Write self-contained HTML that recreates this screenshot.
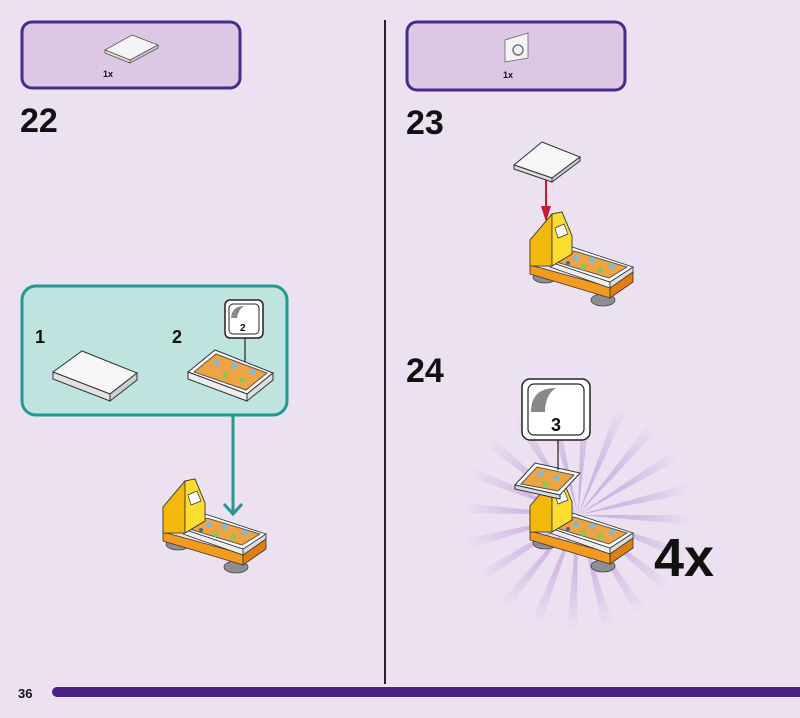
<!DOCTYPE html>
<html><head><meta charset="utf-8"><style>
html,body{margin:0;padding:0;background:#ebe1f1;}
svg{display:block}
text{font-family:"Liberation Sans",sans-serif;font-weight:bold;fill:#111}
</style></head><body>
<svg width="800" height="718" viewBox="0 0 800 718" xmlns="http://www.w3.org/2000/svg">
<defs>
<g id="bed">
  <ellipse cx="17" cy="67" rx="12" ry="6" fill="#8d8d93" stroke="#444" stroke-width="0.8"/>
  <ellipse cx="75" cy="90" rx="12" ry="6" fill="#8d8d93" stroke="#444" stroke-width="0.8"/>
  <polygon points="2,55 82,77 82,88 2,64" fill="#f39b1f" stroke="#333" stroke-width="0.8"/>
  <polygon points="82,77 105,62 105,72 82,88" fill="#e07f10" stroke="#333" stroke-width="0.8"/>
  <polygon points="22,52 82,72 82,78 22,57" fill="#eeeeee" stroke="#333" stroke-width="0.8"/>
  <polygon points="82,72 105,57 105,62 82,78" fill="#dddddd" stroke="#333" stroke-width="0.8"/>
  <polygon points="22,52 44,37 105,57 82,72" fill="#ffffff" stroke="#333" stroke-width="0.8"/>
  <polygon points="28,52 46,41 99,57 81,68" fill="#efa444" stroke="#555" stroke-width="1"/>
  <circle cx="48" cy="48" r="3" fill="#7fb9e0"/><circle cx="64" cy="50" r="3" fill="#7fb9e0"/>
  <circle cx="84" cy="56" r="3" fill="#7fb9e0"/><circle cx="55" cy="57" r="3" fill="#8cc850"/>
  <circle cx="72" cy="60" r="3" fill="#8cc850"/><circle cx="40" cy="53" r="2" fill="#4a6a8a"/>
  <polygon points="2,30 24,4 34,2 44,26 44,44 24,56 2,56" fill="#fbd420" stroke="#333" stroke-width="0.8"/>
  <polygon points="2,30 24,4 24,56 2,56" fill="#f2b80a" stroke="#333" stroke-width="0.8"/>
  <polygon points="24,4 34,2 44,26 44,44 24,56" fill="#fddc30" stroke="#333" stroke-width="0.8"/>
  <polygon points="27,18 36,14 40,24 30,28" fill="#ffffff" stroke="#333" stroke-width="0.7"/>
</g>
<radialGradient id="fade" gradientUnits="userSpaceOnUse" cx="578" cy="515" r="115">
  <stop offset="0" stop-color="#fff" stop-opacity="1"/>
  <stop offset="0.5" stop-color="#fff" stop-opacity="0.7"/>
  <stop offset="1" stop-color="#fff" stop-opacity="0"/>
</radialGradient>
<mask id="m" maskUnits="userSpaceOnUse" x="440" y="380" width="280" height="260"><rect x="440" y="380" width="280" height="260" fill="url(#fade)"/></mask>
</defs>

<line x1="385" y1="20" x2="385" y2="684" stroke="#2a2030" stroke-width="2"/>
<rect x="52" y="687" width="760" height="10" rx="5" fill="#4b2382"/>
<text x="18" y="698" font-size="13">36</text>

<rect x="22" y="22" width="218" height="66" rx="10" fill="#dcc8e5" stroke="#4a2a88" stroke-width="3"/>
<rect x="407" y="22" width="218" height="68" rx="10" fill="#dcc8e5" stroke="#4a2a88" stroke-width="3"/>
<polygon points="105,50 132,35 158,45 130,60" fill="#f4f4f4" stroke="#555" stroke-width="0.8"/>
<polygon points="105,50 130,60 130,63 105,53" fill="#ddd" stroke="#555" stroke-width="0.8"/>
<polygon points="130,60 158,45 158,48 130,63" fill="#ccc" stroke="#555" stroke-width="0.8"/>
<text x="103" y="77" font-size="9">1x</text>
<polygon points="505,40 528,33 528,58 505,62" fill="#f4f4f4" stroke="#666" stroke-width="0.8"/>
<circle cx="518" cy="50" r="5" fill="none" stroke="#777" stroke-width="1.5"/>
<text x="503" y="78" font-size="9">1x</text>

<text x="20" y="132" font-size="34">22</text>
<text x="406" y="134" font-size="34">23</text>
<text x="406" y="382" font-size="34">24</text>

<rect x="22" y="286" width="265" height="129" rx="14" fill="#bfe3df" stroke="#23998f" stroke-width="3"/>
<text x="35" y="343" font-size="18">1</text>
<text x="172" y="343" font-size="18">2</text>
<polygon points="53,372 82,351 137,373 110,394" fill="#f6f6f6" stroke="#333" stroke-width="1"/>
<polygon points="53,372 110,394 110,401 53,379" fill="#e2e2e2" stroke="#333" stroke-width="1"/>
<polygon points="110,394 137,373 137,380 110,401" fill="#cfcfcf" stroke="#333" stroke-width="1"/>
<polygon points="188,372 215,350 273,373 247,394" fill="#ffffff" stroke="#333" stroke-width="1"/>
<polygon points="188,372 247,394 247,401 188,379" fill="#eee" stroke="#333" stroke-width="1"/>
<polygon points="247,394 273,373 273,380 247,401" fill="#ddd" stroke="#333" stroke-width="1"/>
<polygon points="194,372 216,354 267,373 246,390" fill="#efa444" stroke="#555" stroke-width="1"/>
<circle cx="217" cy="363" r="3" fill="#7fb9e0"/><circle cx="234" cy="366" r="3" fill="#7fb9e0"/><circle cx="252" cy="372" r="3" fill="#7fb9e0"/><circle cx="225" cy="375" r="3" fill="#8cc850"/><circle cx="242" cy="380" r="3" fill="#8cc850"/>
<line x1="245" y1="338" x2="245" y2="362" stroke="#222" stroke-width="1.2"/>
<rect x="225" y="300" width="38" height="38" rx="5" fill="#fff" stroke="#222" stroke-width="1.5"/>
<rect x="229" y="304" width="30" height="30" rx="4" fill="#fff" stroke="#222" stroke-width="1"/>
<path d="M231,318 Q232,306 244,306 Q238,310 237,318 Z" fill="#888"/>
<text x="240" y="331" font-size="10" font-weight="normal">2</text>

<line x1="233" y1="415" x2="233" y2="514" stroke="#23998f" stroke-width="3"/>
<polyline points="224,504 233,514 242,504" fill="none" stroke="#23998f" stroke-width="3"/>
<use href="#bed" x="161" y="477"/>

<polygon points="514,165 542,142 580,157 552,178" fill="#f6f6f6" stroke="#333" stroke-width="1"/>
<polygon points="514,165 552,178 552,182 514,169" fill="#ddd" stroke="#333" stroke-width="1"/>
<polygon points="552,178 580,157 580,161 552,182" fill="#ccc" stroke="#333" stroke-width="1"/>
<line x1="546" y1="180" x2="546" y2="218" stroke="#c41a30" stroke-width="2"/>
<polygon points="541,206 546,222 551,206" fill="#c41a30"/>
<use href="#bed" x="528" y="210"/>

<g mask="url(#m)">
<circle cx="578" cy="515" r="57" fill="none" stroke="#c9abe0" stroke-width="114" stroke-dasharray="5 13"/>
</g>
<use href="#bed" x="528" y="476"/>
<polygon points="515,485 535,463 580,473 560,495" fill="#fff" stroke="#333" stroke-width="1"/>
<polygon points="515,485 560,495 560,499 515,489" fill="#ddd" stroke="#333" stroke-width="1"/>
<polygon points="521,484 537,467 574,475 558,491" fill="#efa444" stroke="#555" stroke-width="1"/>
<circle cx="540" cy="474" r="3" fill="#7fb9e0"/><circle cx="556" cy="478" r="3" fill="#7fb9e0"/><circle cx="545" cy="484" r="3" fill="#8cc850"/>
<line x1="558" y1="440" x2="558" y2="470" stroke="#222" stroke-width="1.2"/>
<rect x="522" y="379" width="68" height="61" rx="8" fill="#fff" stroke="#222" stroke-width="1.5"/>
<rect x="528" y="384" width="56" height="51" rx="6" fill="#fff" stroke="#222" stroke-width="1.2"/>
<path d="M531,412 Q531,388 556,388 Q545,395 545,412 Z" fill="#888"/>
<text x="551" y="431" font-size="18" font-weight="normal">3</text>
<text x="654" y="576" font-size="54">4x</text>
</svg>
</body></html>
